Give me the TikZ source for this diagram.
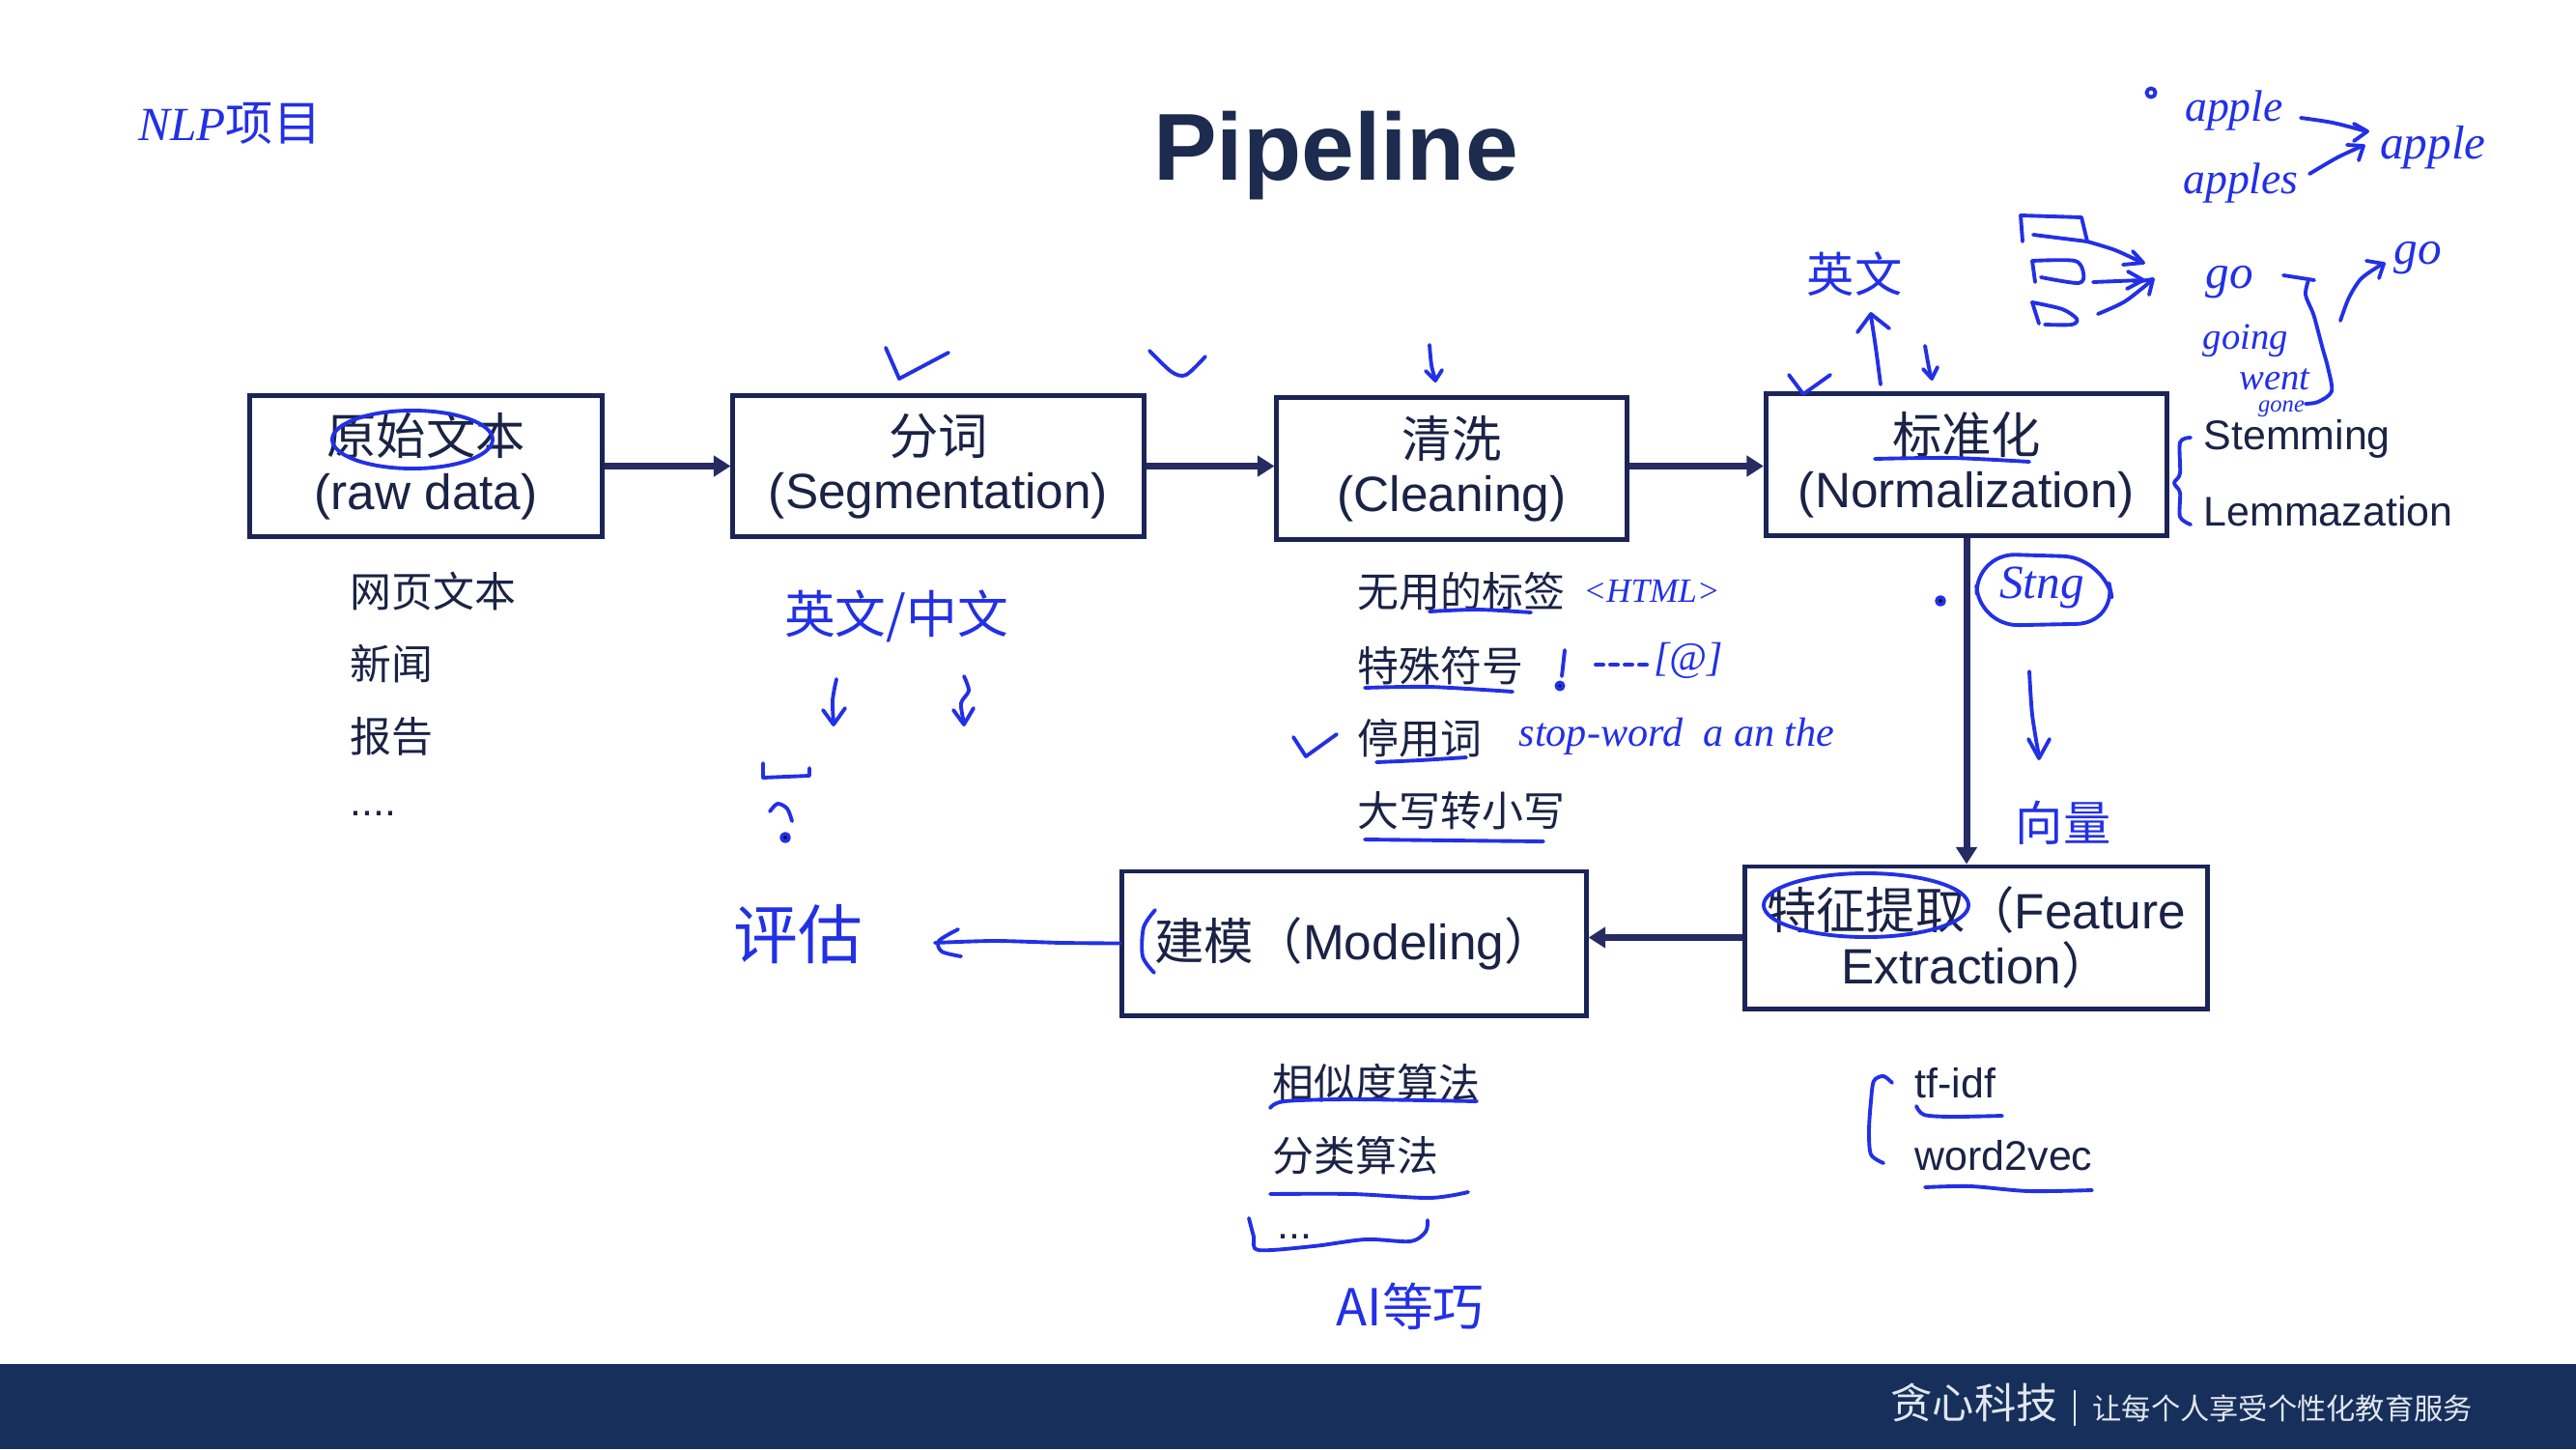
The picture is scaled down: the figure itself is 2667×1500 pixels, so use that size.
\documentclass[tikz,border=0pt]{standalone}
\usepackage{fontspec}
\setmainfont{Liberation Sans}
\newfontfamily\cjk{Noto Sans CJK SC}
\newfontfamily\handlat{Liberation Serif}
\usetikzlibrary{arrows.meta}

\definecolor{txt}{HTML}{1A2346}
\definecolor{boxline}{HTML}{1B2457}
\definecolor{flowc}{HTML}{262B63}
\definecolor{titlec}{HTML}{1C2B4E}
\definecolor{band}{HTML}{16305B}
\definecolor{foot}{HTML}{E2E6EE}
\definecolor{pen}{HTML}{2230E6}

\begin{document}
\begin{tikzpicture}[x=0.01cm,y=-0.01cm,
  stage/.style={draw=boxline, line width=1.4pt, inner sep=0pt, align=center,
    text=txt, font=\fontsize{14.6pt}{16pt}\selectfont},
  flow/.style={draw=flowc, line width=2pt, -{Triangle[length=5pt,width=6pt]}},
  item/.style={anchor=west, inner sep=0pt, text=txt, font=\cjk\fontsize{12.2pt}{14pt}\selectfont},
  itemlat/.style={anchor=west, inner sep=0pt, text=txt, font=\fontsize{12.2pt}{14pt}\selectfont},
  pen/.style={draw=pen, line width=1.1pt, line cap=round, line join=round},
  hz/.style={text=pen, inner sep=0pt, font=\cjk\fontsize{14pt}{16pt}\selectfont},
  hl/.style={text=pen, inner sep=0pt, font=\handlat\itshape\fontsize{12pt}{14pt}\selectfont}]

\useasboundingbox (0,0) rectangle (2667,1500);
\fill[white] (0,0) rectangle (2667,1500);

% footer band
\fill[band] (0,1412) rectangle (2667,1500);
\node[anchor=west, inner sep=0pt, text=foot, font=\cjk\fontsize{12.3pt}{14pt}\selectfont] (brand) at (1957,1452) {贪心科技};
\draw[foot, line width=0.6pt] (2148,1439) -- (2148,1476);
\node[anchor=west, inner sep=0pt, text=foot, font=\cjk\fontsize{8.6pt}{10pt}\selectfont] (slogan) at (2166,1458) {让每个人享受个性化教育服务};

% title
\node[anchor=base, inner sep=0pt, text=titlec, font=\bfseries\fontsize{28pt}{32pt}\selectfont] (title) at (1383,187) {Pipeline};

% pipeline stages
\node[stage, minimum width=3.64cm, minimum height=1.45cm] (raw) at (441,482.5) {{\cjk 原始文本}\\(raw data)};
\node[stage, minimum width=4.25cm, minimum height=1.45cm] (seg) at (971.5,482.5) {{\cjk 分词}\\(Segmentation)};
\node[stage, minimum width=3.62cm, minimum height=1.46cm] (clean) at (1503,485) {{\cjk 清洗}\\(Cleaning)};
\node[stage, minimum width=4.15cm, minimum height=1.46cm] (norm) at (2036,481) {{\cjk 标准化}\\(Normalization)};
\node[stage, minimum width=4.78cm, minimum height=1.47cm] (feat) at (2046,970.5) {{\cjk 特征提取（}Feature\\Extraction{\cjk ）}};
\node[stage, minimum width=4.80cm, minimum height=1.49cm] (model) at (1402,976.5) {{\cjk 建模（}Modeling{\cjk ）}};

% connectors
\draw[flow] (raw.east) -- (raw.east -| seg.west);
\draw[flow] (seg.east) -- (seg.east -| clean.west);
\draw[flow] (clean.east |- seg.east) -- (seg.east -| norm.west);
\draw[flow] (norm.south) -- (norm.south |- feat.north);
\draw[flow] (feat.west) -- (feat.west -| model.east);

% item lists
\node[item] (r1) at (362,612) {网页文本};
\node[item] (r2) at (362,687) {新闻};
\node[item] (r3) at (362,762) {报告};
\node[itemlat] (r4) at (362,842) {....};

\node[item] (c1) at (1405,612) {无用的标签};
\node[item] (c2) at (1405,689) {特殊符号};
\node[item] (c3) at (1405,764) {停用词};
\node[item] (c4) at (1405,839) {大写转小写};

\node[itemlat] (n1) at (2281,454) {Stemming};
\node[itemlat] (n2) at (2281,529) {Lemmazation};

\node[item] (m1) at (1317,1121) {相似度算法};
\node[item] (m2) at (1317,1196) {分类算法};
\node[itemlat] (m3) at (1322,1280) {...};

\node[itemlat] (f1) at (1982,1121) {tf-idf};
\node[itemlat] (f2) at (1982,1196) {word2vec};

% ---- pen notes ----
\node[hl, font=\handlat\itshape\fontsize{14pt}{16pt}\selectfont] (nlp) at (238,128) {NLP{\cjk 项目}};

% marks above the stages
\draw[pen] (917,360) -- (931,392) -- (982,365);
\draw[pen] plot[smooth] coordinates {(1190,363) (1213,385) (1228,388) (1248,369)};
\draw[pen] plot[smooth] coordinates {(1480,357) (1482,378) (1486,393)};
\draw[pen] (1476,384) -- (1486,394) -- (1493,383);
\draw[pen] (1852,388) -- (1867,408) -- (1895,388);

% 原始文本 circled
\draw[pen] (427,455) ellipse [x radius=0.83cm, y radius=0.3cm];

% segmentation notes
\node[hz, font=\cjk\fontsize{15pt}{17pt}\selectfont] (lang) at (928,638) {英文/中文};
\draw[pen] plot[smooth] coordinates {(866,703) (862,725) (863,748)};
\draw[pen] (852,735) -- (863,750) -- (875,733);
\draw[pen] plot[smooth] coordinates {(998,700) (1003,715) (995,728) (998,748)};
\draw[pen] (987,735) -- (998,750) -- (1008,733);
\draw[pen] (790,790) -- (790,805) -- (838,803) -- (838,795);
\draw[pen] plot[smooth] coordinates {(797,840) (805,832) (815,837) (820,850)};
\fill[pen] (813,867) circle [radius=1.1pt];

% evaluation
\node[hz, font=\cjk\fontsize{19pt}{21pt}\selectfont] (eval) at (826,967) {评估};
\draw[pen] plot[smooth] coordinates {(model.west) (1100,976) (1030,974) (968,976)};
\draw[pen] plot[smooth] coordinates {(992,962) (972,974) (975,985) (995,990)};
\draw[pen] plot[smooth] coordinates {(1196,942) (1184,960) (1183,990) (1195,1007)};

% cleaning notes
\draw[pen] plot[smooth] coordinates {(1480,633) (1530,631) (1585,634)};
\draw[pen] plot[smooth] coordinates {(1413,712) (1480,711) (1566,716)};
\draw[pen] plot[smooth] coordinates {(1425,789) (1470,787) (1518,784)};
\draw[pen] plot[smooth] coordinates {(1413,869) (1500,870) (1598,871)};
\draw[pen] (1339,763) -- (1352,783) -- (1384,760);
\node[hl, font=\handlat\itshape\fontsize{10pt}{12pt}\selectfont] (html) at (1710,612) {<HTML>};
\draw[pen] (1620,673) -- (1617,700);
\fill[pen] (1615,710) circle [radius=1pt];
\foreach \a in {1652,1667,1682,1697} \draw[pen] (\a,688) -- (\a+8,688);
\node[hl] (sym) at (1748,684) {[@]};
\node[hl] (stop) at (1736,762) {stop-word\enspace a an the};

% normalization notes
\draw[pen] plot[smooth] coordinates {(1941,475) (2020,474) (2101,478)};
\draw[pen] plot[smooth] coordinates {(2268,453) (2257,458) (2257,490) (2251,500) (2257,510) (2257,535) (2268,543)};
\node[hz] (en) at (1920,284) {英文};
\draw[pen] plot[smooth] coordinates {(1947,398) (1942,360) (1937,327)};
\draw[pen] (1923,344) -- (1937,325) -- (1956,340);
\draw[pen] plot[smooth] coordinates {(1993,358) (1996,375) (1999,390)};
\draw[pen] (1991,382) -- (2000,392) -- (2006,380);

% word-form sketches
\draw[pen] (2094,250) -- (2092,223) -- (2155,225) -- (2161,250);
\draw[pen] (2105,243) -- (2161,250);
\draw[pen] plot[smooth] coordinates {(2161,250) (2190,259) (2218,272)};
\draw[pen] (2208,260) -- (2219,272) -- (2198,274);
\draw[pen] (2104,270) -- (2107,292);
\draw[pen] plot[smooth] coordinates {(2104,270) (2148,270) (2157,283) (2152,293) (2113,287)};
\draw[pen] (2167,292) -- (2218,290);
\draw[pen] (2203,281) -- (2219,290) -- (2202,299);
\draw[pen] (2104,313) -- (2111,335);
\draw[pen] plot[smooth] coordinates {(2104,313) (2135,320) (2150,330) (2145,336) (2117,336)};
\draw[pen] plot[smooth] coordinates {(2172,325) (2200,312) (2228,290)};
\draw[pen] (2210,292) -- (2229,289) -- (2225,305);

\node[hl, font=\handlat\itshape\fontsize{14pt}{16pt}\selectfont] (go1) at (2308,292) {go};
\node[hl, font=\handlat\itshape\fontsize{11pt}{13pt}\selectfont] (going) at (2325,353) {going};
\node[hl, font=\handlat\itshape\fontsize{11pt}{13pt}\selectfont] (went) at (2355,393) {went};
\node[hl, font=\handlat\itshape\fontsize{7pt}{8pt}\selectfont] (gone) at (2362,423) {gone};
\draw[pen] (2364,285) -- (2396,290);
\draw[pen] plot[smooth] coordinates {(2390,290) (2387,305) (2395,325) (2400,343) (2405,362) (2410,380) (2414,405) (2400,416) (2387,418)};
\draw[pen] plot[smooth] coordinates {(2423,332) (2432,308) (2445,288) (2467,273)};
\draw[pen] (2450,270) -- (2468,273) -- (2463,288);
\node[hl, font=\handlat\itshape\fontsize{14pt}{16pt}\selectfont] (go2) at (2503,267) {go};

\draw[pen] (2227,96) circle [radius=1.3pt];
\node[hl, font=\handlat\itshape\fontsize{13pt}{15pt}\selectfont] (ap1) at (2313,115) {apple};
\node[hl, font=\handlat\itshape\fontsize{13pt}{15pt}\selectfont] (ap2) at (2320,190) {apples};
\node[hl, font=\handlat\itshape\fontsize{14pt}{16pt}\selectfont] (ap3) at (2519,153) {apple};
\draw[pen] plot[smooth] coordinates {(2382,122) (2415,127) (2450,136)};
\draw[pen] (2437,128) -- (2451,136) -- (2437,146);
\draw[pen] plot[smooth] coordinates {(2391,180) (2420,163) (2446,151)};
\draw[pen] (2430,150) -- (2447,151) -- (2442,166);

% stemming note beside the down link
\fill[pen] (2009,622) circle [radius=1.1pt];
\draw[pen, rounded corners=12] (2045,573) -- (2178,577) -- (2192,645) -- (2048,648) -- cycle;
\node[hl, font=\handlat\itshape\fontsize{14pt}{16pt}\selectfont] (stng) at (2114,608) {Stng};
\draw[pen] plot[smooth] coordinates {(2101,695) (2104,740) (2111,783)};
\draw[pen] (2100,765) -- (2111,785) -- (2122,765);
\node[hz] (vec) at (2136,852) {向量};

% feature notes
\draw[pen] (1932,937) ellipse [x radius=1.06cm, y radius=0.33cm];
\draw[pen] plot[smooth] coordinates {(1959,1121) (1950,1114) (1940,1119) (1937,1140) (1935,1170) (1937,1195) (1950,1204)};
\draw[pen] plot[smooth] coordinates {(1984,1145) (1992,1154) (2020,1156) (2073,1155)};
\draw[pen] plot[smooth] coordinates {(1993,1229) (2040,1228) (2100,1233) (2166,1232)};

% modeling notes
\draw[pen] plot[smooth] coordinates {(1315,1147) (1330,1140) (1400,1138) (1529,1140)};
\draw[pen] plot[smooth] coordinates {(1315,1236) (1400,1236) (1480,1240) (1520,1234)};
\draw[pen] plot[smooth] coordinates {(1293,1261) (1298,1280) (1303,1294) (1360,1290) (1414,1283) (1460,1285) (1476,1275) (1478,1263)};
\node[hz, font=\cjk\fontsize{15pt}{17pt}\selectfont] (ai) at (1460,1352) {AI等巧};

\end{tikzpicture}
\end{document}
